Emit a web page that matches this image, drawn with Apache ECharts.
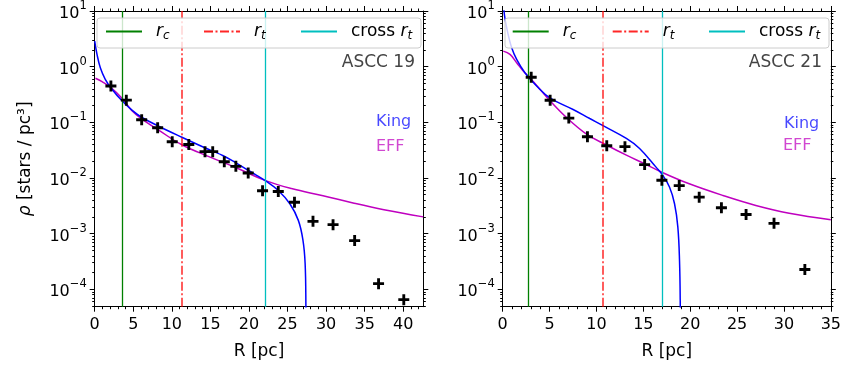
<!DOCTYPE html>
<html><head><meta charset="utf-8">
<script src="https://cdn.jsdelivr.net/npm/echarts@6/dist/echarts.min.js"></script>
<style>html,body{margin:0;padding:0;background:#fff}#c{width:844px;height:368px}</style>
</head><body><div id="c"></div>
<script>
// ---------- DATA ----------
const panelNames = ['ASCC 19', 'ASCC 21'];
const xMaxes = [42.6, 35];
const xTickLabelsA = [0, 5, 10, 15, 20, 25, 30, 35, 40];
const xTickLabelsB = [0, 5, 10, 15, 20, 25, 30, 35];
const yTickExps = [-4, -3, -2, -1, 0, 1];

// ASCC 19 observed profile
const radiiA = [2.1, 4.1, 6.09, 8.16, 10.05, 12.2, 14.3, 15.3, 16.8, 18.3, 19.9, 21.76, 23.8, 25.9, 28.3, 30.9, 33.7, 36.8, 40.07];
const densA  = [0.45, 0.25, 0.111, 0.080, 0.0448, 0.040, 0.0297, 0.0297, 0.0196, 0.0162, 0.0123, 0.00588, 0.00571, 0.00367, 0.00166, 0.00145, 0.00075, 0.000126, 0.000065];
// ASCC 21 observed profile
const radiiB = [3.04, 5.06, 7.05, 9.04, 11.1, 13.04, 15.14, 16.98, 18.83, 20.96, 23.33, 25.96, 28.94, 32.23];
const densB  = [0.644, 0.249, 0.119, 0.0551, 0.038, 0.0365, 0.0174, 0.0091, 0.0073, 0.00452, 0.00292, 0.00221, 0.00153, 0.000227];

// radii: core, tidal, cross tidal
const rcA = 3.63, rtA = 11.27, crossA = 22.15;
const rcB = 2.77, rtB = 10.64, crossB = 17.02;

// King fit curve
const kingRA = [0.0, 0.3, 0.73, 1.37, 2.24, 3.54, 4.83, 6.13, 8.29, 11.3, 14.8, 16.66, 18.2, 20.1, 22.15, 23.8, 25.3, 26.4, 27.0, 27.28, 27.38, 27.42];
const kingDA = [2.88, 1.66, 0.955, 0.593, 0.393, 0.243, 0.166, 0.122, 0.0851, 0.0540, 0.0324, 0.0251, 0.0191, 0.0132, 0.00891, 0.00596, 0.00344, 0.00173, 0.000759, 0.00029, 0.00005, 0.0000032];
const kingRB = [0.0, 0.14, 0.43, 0.96, 1.49, 2.37, 3.62, 5.03, 7.51, 9.29, 10.7, 13.19, 14.6, 16.38, 16.98, 17.8, 18.33, 18.68, 18.86, 18.94, 18.97];
const kingDB = [31.6, 10, 4.97, 2.18, 1.35, 0.778, 0.45, 0.275, 0.170, 0.117, 0.0871, 0.0513, 0.0339, 0.0155, 0.01175, 0.00682, 0.00344, 0.00132, 0.000333, 0.000052, 0.0000032];
// EFF fit curve
const effRA = [0.1, 0.95, 2.1, 3.54, 4.83, 6.13, 8.29, 11.3, 14.8, 18.2, 22.15, 25.5, 29.6, 33.5, 37.5, 42.6];
const effDA = [0.618, 0.537, 0.42, 0.271, 0.161, 0.114, 0.0724, 0.0395, 0.0242, 0.0156, 0.00897, 0.00646, 0.00479, 0.00355, 0.00269, 0.0020];
const effRB = [0.06, 0.78, 1.49, 2.19, 3.04, 3.97, 5.06, 6.81, 8.94, 11.06, 13.19, 15.32, 16.98, 19.9, 23.5, 27.0, 30.56, 35.0];
const effDB = [1.90, 1.66, 1.175, 0.834, 0.593, 0.393, 0.243, 0.122, 0.0615, 0.0391, 0.0257, 0.0174, 0.01265, 0.00785, 0.00484, 0.00321, 0.00233, 0.00178];

// ---------- BUILD ----------
const FONT = 'DejaVu Sans';
const YMIN = -4.313, YMAX = 1;
const L = v => Math.log10(v);
const pairs = (xs, ys) => xs.map((x, i) => [x, L(ys[i])]);

const grids = [
  { left: 94.7, right: 844 - 423.3, top: 9.7, bottom: 368 - 306.7 },
  { left: 502.7, right: 844 - 831.7, top: 9.7, bottom: 368 - 306.7 }
];

const yMinor = [];
for (let d = -5; d <= 0; d++) for (let k = 2; k <= 9; k++) {
  const v = d + Math.log10(k);
  if (v > YMIN && v < YMAX) yMinor.push(v);
}
const supMap = v => String(v).replace('-', '\u2212');

const xAxes = [], yAxes = [];
const tickLine = { color: '#000', width: 1 };
[xTickLabelsA, xTickLabelsB].forEach((majors, g) => {
  const xmax = xMaxes[g];
  const minors = [];
  for (let i = 1; i < xmax; i++) if (i % 5 !== 0) minors.push(i);
  const base = { type: 'value', gridIndex: g, min: 0, max: xmax, splitLine: { show: false } };
  xAxes.push(Object.assign({}, base, {
    position: 'bottom',
    axisLine: { onZero: false, lineStyle: tickLine },
    axisTick: { customValues: majors, length: 5, lineStyle: tickLine },
    axisLabel: { customValues: majors, margin: 10, fontSize: 16, color: '#000', fontFamily: FONT },
    name: 'R [pc]', nameLocation: 'middle', nameGap: 36,
    nameTextStyle: { fontSize: 17, color: '#000', fontFamily: FONT }
  }));
  xAxes.push(Object.assign({}, base, {
    position: 'bottom', axisLine: { show: false, onZero: false },
    axisTick: { customValues: minors, length: 2.5, lineStyle: tickLine },
    axisLabel: { show: false }
  }));
  xAxes.push(Object.assign({}, base, {
    position: 'top', axisLine: { onZero: false, lineStyle: tickLine },
    axisTick: { customValues: majors, length: 5, lineStyle: tickLine },
    axisLabel: { show: false }
  }));
  xAxes.push(Object.assign({}, base, {
    position: 'top', axisLine: { show: false, onZero: false },
    axisTick: { customValues: minors, length: 2.5, lineStyle: tickLine },
    axisLabel: { show: false }
  }));

  const ybase = { type: 'value', gridIndex: g, min: YMIN, max: YMAX, splitLine: { show: false } };
  const yMajor = Object.assign({}, ybase, {
    position: 'left',
    axisLine: { onZero: false, lineStyle: tickLine },
    axisTick: { customValues: yTickExps, length: 5, lineStyle: tickLine },
    axisLabel: {
      customValues: yTickExps, margin: 8, color: '#000', fontFamily: FONT,
      formatter: v => '{b|10}{s|' + supMap(Math.round(v)) + '}',
      rich: {
        b: { fontSize: 16, fontFamily: FONT, color: '#000', lineHeight: 22, verticalAlign: 'bottom' },
        s: { fontSize: 11.5, fontFamily: FONT, color: '#000', lineHeight: 22, verticalAlign: 'top' }
      }
    }
  });
  if (g === 0) {
    Object.assign(yMajor, {
      name: '{i|\u03c1}{n| [stars / pc\u00b3]}', nameLocation: 'middle', nameGap: 61,
      nameTextStyle: {
        rich: {
          i: { fontSize: 17, fontStyle: 'italic', fontFamily: FONT, color: '#000' },
          n: { fontSize: 17, fontFamily: FONT, color: '#000' }
        }
      }
    });
  }
  yAxes.push(yMajor);
  yAxes.push(Object.assign({}, ybase, {
    position: 'left', axisLine: { show: false, onZero: false },
    axisTick: { customValues: yMinor, length: 2.5, lineStyle: tickLine },
    axisLabel: { show: false }
  }));
  yAxes.push(Object.assign({}, ybase, {
    position: 'right', axisLine: { onZero: false, lineStyle: tickLine },
    axisTick: { customValues: yTickExps, length: 5, lineStyle: tickLine },
    axisLabel: { show: false }
  }));
  yAxes.push(Object.assign({}, ybase, {
    position: 'right', axisLine: { show: false, onZero: false },
    axisTick: { customValues: yMinor, length: 2.5, lineStyle: tickLine },
    axisLabel: { show: false }
  }));
});

const plusPath = 'path://M3.7,0H6.3V3.7H10V6.3H6.3V10H3.7V6.3H0V3.7H3.7Z';
const vStyles = {
  rc: { color: '#008000', width: 1.3, type: 'solid' },
  rt: { color: 'rgba(255,0,0,0.85)', width: 1.5, type: [9, 2.5, 2, 2.5] },
  cross: { color: '#00bfbf', width: 1.3, type: 'solid' }
};
const panels = [
  { r: radiiA, d: densA, rc: rcA, rt: rtA, cr: crossA, kr: kingRA, kd: kingDA, er: effRA, ed: effDA },
  { r: radiiB, d: densB, rc: rcB, rt: rtB, cr: crossB, kr: kingRB, kd: kingDB, er: effRB, ed: effDB }
];
const series = [];
panels.forEach((p, g) => {
  const ax = { xAxisIndex: 4 * g, yAxisIndex: 4 * g };
  [['rc', p.rc], ['rt', p.rt], ['cross', p.cr]].forEach(([nm, xv]) => {
    series.push(Object.assign({
      type: 'line', name: nm, data: [], symbol: 'none', z: 2,
      lineStyle: vStyles[nm], itemStyle: { color: vStyles[nm].color },
      markLine: {
        silent: true, symbol: ['none', 'none'], label: { show: false },
        lineStyle: vStyles[nm], animation: false,
        data: [{ xAxis: xv }]
      }
    }, ax));
  });
  series.push(Object.assign({
    type: 'line', name: 'EFF', data: pairs(p.er, p.ed), symbol: 'none', smooth: 0.4,
    lineStyle: { color: '#bf00bf', width: 1.5 }, itemStyle: { color: '#bf00bf' }, z: 3
  }, ax));
  series.push(Object.assign({
    type: 'line', name: 'King', data: pairs(p.kr, p.kd), symbol: 'none', smooth: 0.4,
    lineStyle: { color: '#0000ff', width: 1.5 }, itemStyle: { color: '#0000ff' }, z: 3
  }, ax));
  series.push(Object.assign({
    type: 'scatter', name: 'data', data: pairs(p.r, p.d), symbol: plusPath, symbolSize: 11,
    itemStyle: { color: '#000', opacity: 1 }, z: 5
  }, ax));
});

const legendRich = {
  sp: { width: 9 },
  i: { fontSize: 17, fontStyle: 'italic', fontFamily: FONT, color: '#000', lineHeight: 20 },
  n: { fontSize: 17, fontFamily: FONT, color: '#000', lineHeight: 20 },
  sub: { fontSize: 12, fontStyle: 'italic', fontFamily: FONT, color: '#000', lineHeight: 20, verticalAlign: 'bottom' }
};
const legendFmt = { rc: '{sp|}{i|r}{sub|c}', rt: '{sp|}{i|r}{sub|t}', cross: '{sp|}{n|cross }{i|r}{sub|t}' };
const legends = [];
const legendLeft = [[105, 203, 300], [511.7, 611.7, 708]];
legendLeft.forEach(row => {
  ['rc', 'rt', 'cross'].forEach((nm, j) => {
    legends.push({
      data: [nm], left: row[j], top: 23, padding: 0, itemWidth: 36, itemHeight: 14,
      selectedMode: false, z: 20,
      itemStyle: { opacity: 0, borderWidth: 0 },
      formatter: n => legendFmt[n],
      textStyle: { rich: legendRich }
    });
  });
});

const graphics = [];
[97, 505].forEach(x0 => {
  graphics.push({
    type: 'rect', z: 10, silent: true,
    shape: { x: x0, y: 18, width: 324, height: 30, r: 3 },
    style: { fill: 'rgba(255,255,255,0.8)', stroke: '#cccccc', lineWidth: 1 }
  });
});
const txt = (text, x, y, fill, align, size) => ({
  type: 'text', z: 20, silent: true,
  style: { text, x, y, fill, align, verticalAlign: 'middle', font: size + 'px "' + FONT + '"' }
});
graphics.push(txt(panelNames[0], 415, 62.5, '#444444', 'right', 17));
graphics.push(txt(panelNames[1], 822, 62.5, '#444444', 'right', 17));
graphics.push(txt('King', 376, 122, 'rgba(0,0,255,0.72)', 'left', 16));
graphics.push(txt('EFF', 376, 146.5, 'rgba(191,0,191,0.72)', 'left', 16));
graphics.push(txt('King', 784, 123.5, 'rgba(0,0,255,0.72)', 'left', 16));
graphics.push(txt('EFF', 783, 146, 'rgba(191,0,191,0.72)', 'left', 16));

const chart = echarts.init(document.getElementById('c'), null, { renderer: 'canvas' });
chart.setOption({
  animation: false,
  backgroundColor: '#fff',
  grid: grids,
  xAxis: xAxes,
  yAxis: yAxes,
  legend: legends,
  graphic: graphics,
  series: series
});
</script></body></html>
